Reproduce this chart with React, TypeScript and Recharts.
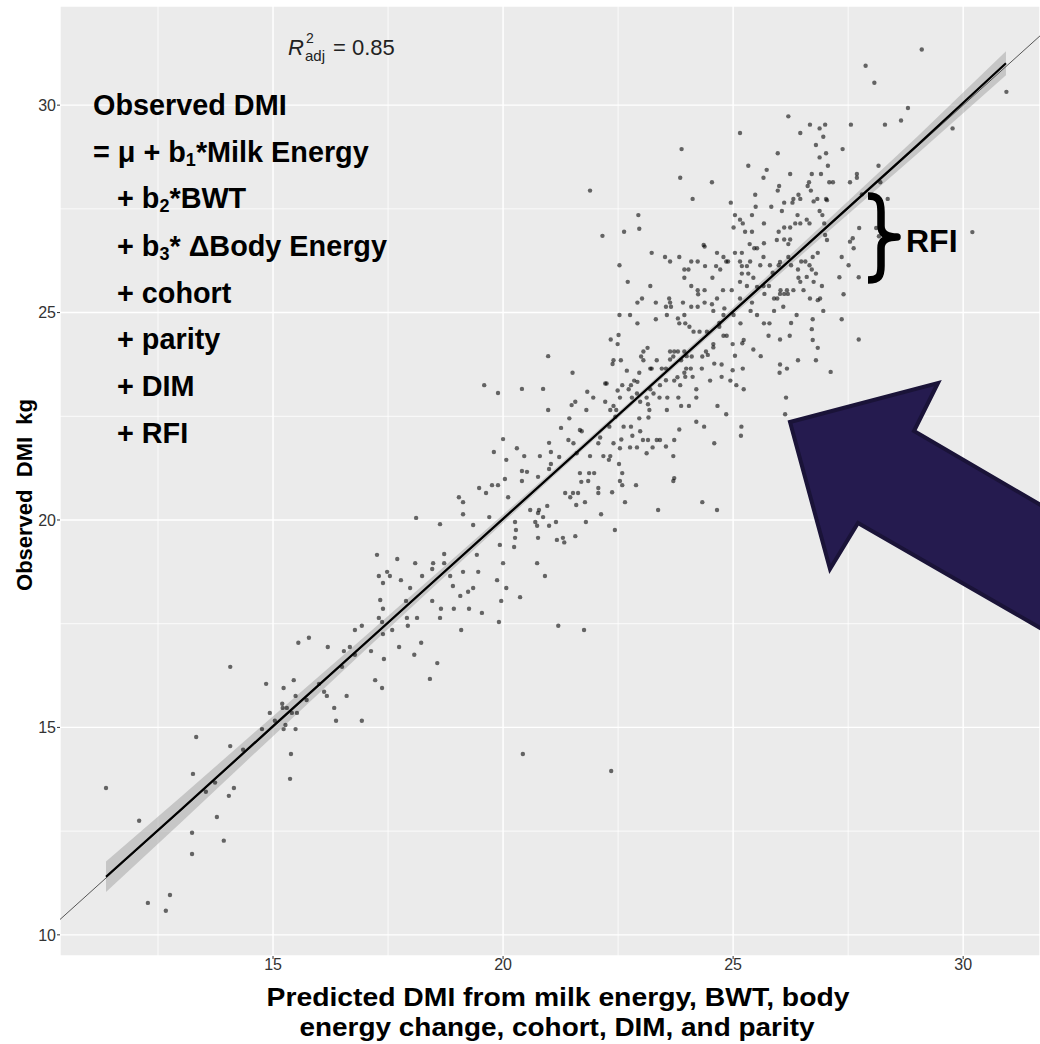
import { ComposedChart, Scatter, Area, Line, XAxis, YAxis, CartesianGrid, ReferenceLine } from 'recharts';

const FONT = '"Liberation Sans", Arial, sans-serif';

// axis ticks and grid
const xTicks = [15, 20, 25, 30];
const yTicks = [10, 15, 20, 25, 30];
const xMinor = [12.5, 17.5, 22.5, 27.5];
const yMinor = [12.5, 17.5, 22.5, 27.5];

// fitted line + confidence band (predicted, fitted, low, high)
const fitX = [11.37, 13, 15, 17, 19, 21, 23, 25, 27, 29, 30.93];
const fitY = [11.4, 13.02, 15.03, 17.03, 19.03, 21.03, 23.03, 25.03, 27.03, 29.03, 31.01];
const bandLow = [11.03, 12.71, 14.79, 16.86, 18.91, 20.95, 22.96, 24.94, 26.89, 28.82, 30.72];
const bandHigh = [11.77, 13.33, 15.27, 17.2, 19.15, 21.11, 23.1, 25.12, 27.17, 29.24, 31.3];

// y = x reference line ends
const ablineEnds = [10.37, 31.67];

// [predicted, observed] pairs
const lowPoints: [number, number][] = [
  [11.37, 13.54], [12.09, 12.75], [12.28, 10.77], [12.67, 10.58], [12.76, 10.96], [13.24, 12.46], [13.24, 11.95],
  [13.26, 13.88], [13.33, 14.77], [13.54, 13.45], [13.74, 13.67], [13.78, 12.84], [13.93, 12.27], [14.04, 13.35],
  [14.07, 14.55], [14.07, 16.46], [14.15, 13.54], [14.35, 14.46], [14.76, 14.96], [14.85, 16.05], [14.93, 15.35],
  [15.04, 15.16], [15.2, 15.57], [15.21, 15.47], [15.23, 15.95], [15.23, 14.96], [15.27, 15.06], [15.3, 15.47],
  [15.37, 13.76], [15.39, 14.36], [15.41, 15.35], [15.45, 16.14], [15.49, 15.76], [15.49, 14.96], [15.52, 15.35],
  [15.55, 17.04], [15.73, 15.66], [15.78, 17.16], [16.0, 16.05], [16.11, 15.86], [16.17, 15.76], [16.19, 16.94],
  [16.33, 15.47], [16.37, 15.16], [16.5, 16.46], [16.54, 16.84], [16.6, 15.76], [16.67, 16.94], [16.78, 17.35],
  [16.78, 16.75], [16.93, 17.45], [16.93, 15.16], [17.13, 16.84], [17.22, 16.14], [17.37, 15.95], [17.41, 16.65],
  [17.39, 17.25], [17.37, 17.54], [17.59, 17.35], [17.74, 16.94],
];

const midPoints: [number, number][] = [
  [19.59, 23.25], [19.89, 23.06], [20.41, 23.16], [20.87, 23.16], [20.98, 22.65], [20.98, 23.95],
  [21.0, 21.86], [21.04, 21.64], [21.22, 21.52], [21.04, 21.35], [21.0, 21.23], [22.3, 21.45], [22.52, 21.35],
  [22.59, 21.13], [22.54, 20.94], [22.59, 20.84], [22.65, 20.43], [22.37, 20.67], [22.43, 19.76], [22.07, 20.77],
  [22.07, 20.65], [21.87, 21.13], [21.98, 21.13], [21.85, 20.94], [21.67, 21.13], [21.7, 20.92], [21.63, 20.65],
  [21.52, 20.65], [21.46, 20.55], [21.35, 20.65], [21.59, 20.36], [21.78, 20.43], [22.13, 20.14], [21.8, 19.95],
  [21.57, 19.61], [21.3, 19.57], [21.33, 19.46], [21.17, 19.52], [20.78, 20.24], [20.76, 20.17], [20.87, 20.07],
  [20.96, 20.34], [20.7, 19.95], [20.74, 19.86], [20.59, 20.24], [20.76, 21.04], [21.0, 19.86], [21.15, 19.95],
  [20.76, 19.57], [20.74, 18.96], [20.91, 18.65], [20.37, 18.14], [21.2, 17.45], [21.76, 17.35], [20.41, 21.18],
  [20.52, 21.16], [20.41, 20.94], [20.3, 21.73], [20.46, 21.54], [20.8, 21.54], [20.0, 21.95], [20.07, 21.45],
  [20.04, 20.99], [20.11, 20.55], [20.26, 19.95], [20.28, 19.76], [20.26, 19.57], [20.24, 19.35], [19.93, 19.4],
  [20.0, 18.96], [19.87, 18.55], [20.07, 18.36], [19.96, 18.05], [19.91, 17.54], [19.8, 21.64], [19.76, 20.84],
  [19.89, 20.84], [19.63, 20.65], [19.48, 20.77], [19.7, 20.07], [19.35, 19.88], [19.04, 20.55], [19.13, 20.43],
  [19.13, 20.14], [19.43, 19.16], [19.46, 18.75], [19.35, 18.36], [19.24, 18.27], [19.07, 18.17], [19.13, 18.75],
  [19.54, 17.76], [19.26, 17.86], [19.09, 17.35], [18.93, 17.86], [18.91, 18.41], [18.85, 18.65], [18.72, 19.18],
  [18.63, 19.9], [18.11, 20.05], [18.72, 18.96], [18.48, 18.96], [18.46, 18.82], [18.24, 18.65], [18.09, 18.96],
  [17.98, 18.36], [17.78, 18.55], [17.7, 19.06], [17.54, 18.65], [17.48, 18.75], [17.39, 18.48], [17.3, 18.65],
  [17.26, 19.16], [17.33, 18.07], [17.39, 17.86], [17.3, 17.64], [17.89, 18.05], [17.91, 17.64], [17.93, 17.45],
  [18.13, 17.64], [18.22, 17.04], [18.07, 16.75], [18.41, 16.17], [18.57, 16.55], [18.46, 18.05], [18.65, 17.86],
  [18.63, 17.64], [20.43, 14.36], [22.35, 13.95], [22.89, 20.84], [23.37, 20.24], [23.72, 21.01], [23.7, 20.94],
  [24.33, 20.43], [24.65, 20.24],
];

const densePoints: [number, number][] = [
  [24.95, 27.65], [25.49, 27.55], [25.83, 27.55], [26.11, 27.65], [26.29, 27.65], [26.75, 27.68], [27.04, 27.71],
  [25.04, 27.35], [25.41, 27.35], [25.15, 27.24], [25.21, 27.15], [25.01, 27.05], [25.67, 27.15], [25.41, 26.95],
  [25.26, 26.95], [25.99, 26.95], [26.11, 27.05], [26.24, 27.05], [26.06, 27.45], [26.4, 27.35], [26.46, 27.15],
  [26.35, 27.15], [26.6, 27.24], [26.66, 27.15], [26.88, 27.45], [26.94, 27.35], [26.98, 27.15], [22.94, 27.35],
  [22.63, 26.95], [22.96, 27.02], [22.16, 26.85], [26.11, 26.76], [26.24, 26.76], [25.95, 26.75], [26.2, 26.65],
  [25.67, 26.67], [25.36, 26.65], [25.46, 26.55], [25.52, 26.55], [25.19, 26.44], [25.04, 26.44], [25.66, 26.34],
  [24.36, 26.63], [24.38, 26.59], [24.65, 26.44], [24.79, 26.34], [24.85, 26.23], [24.89, 26.23], [25.15, 26.23],
  [25.37, 26.23], [25.19, 26.12], [25.3, 26.12], [24.39, 26.12], [24.63, 26.12], [24.23, 26.23], [24.09, 26.23],
  [23.83, 26.34], [23.52, 26.34], [23.63, 26.23], [23.23, 26.44], [22.53, 26.14], [23.94, 26.04], [24.03, 26.04],
  [24.72, 26.04], [23.94, 25.84], [24.55, 25.84], [25.19, 25.94], [25.33, 25.94], [25.59, 26.14], [25.8, 26.14],
  [25.86, 25.96], [25.44, 25.84], [25.15, 25.74], [25.3, 25.64], [24.97, 25.54], [24.78, 25.54], [24.65, 25.34],
  [24.54, 25.2], [24.23, 25.54], [24.38, 25.54], [24.24, 25.44], [24.09, 25.64], [23.2, 25.64], [22.71, 25.74],
  [23.02, 25.34], [22.92, 25.24], [23.32, 25.24], [23.61, 25.34], [23.63, 25.24], [23.54, 25.14], [23.65, 25.14],
  [23.91, 25.24], [24.09, 25.14], [24.23, 25.14], [24.38, 25.24], [24.57, 25.04], [24.81, 25.1], [25.15, 25.34],
  [25.41, 25.24], [25.66, 25.64], [25.78, 25.64], [25.89, 25.34], [25.96, 25.34], [26.03, 25.54], [26.17, 25.54],
  [26.31, 25.54], [26.53, 25.54], [26.75, 25.74], [26.8, 25.94], [26.6, 25.86], [26.71, 26.04], [26.66, 26.14],
  [26.57, 26.23], [26.48, 26.23], [26.41, 26.04], [26.26, 26.14], [25.99, 26.14], [26.2, 26.34], [26.02, 26.22],
  [25.52, 25.62], [25.68, 25.45], [26.02, 25.45], [26.11, 25.45], [26.19, 25.45], [26.42, 25.84], [26.46, 25.74],
  [26.93, 25.64], [27.31, 25.85], [27.36, 26.34], [27.51, 26.14], [27.4, 25.44], [27.54, 26.71], [27.6, 26.79],
  [27.62, 26.55], [27.73, 25.85], [27.04, 26.75], [27.0, 26.87], [26.84, 26.44], [26.73, 26.34], [26.89, 25.34],
  [26.84, 25.3], [26.96, 25.04], [26.67, 25.34], [26.38, 24.94], [26.09, 25.14], [25.89, 25.04], [25.52, 24.94],
  [25.38, 25.04], [25.16, 24.74], [25.01, 24.94], [24.86, 24.44], [24.79, 24.44], [24.7, 24.66], [24.79, 24.94],
  [24.7, 24.75], [24.57, 24.24], [24.43, 24.54], [24.27, 24.54], [24.14, 24.54], [24.05, 24.66], [23.94, 24.94],
  [23.96, 24.74], [23.8, 24.86], [23.56, 24.94], [23.83, 24.74], [23.32, 24.84], [22.92, 24.74], [22.76, 24.94],
  [22.53, 24.94], [22.51, 24.46], [22.34, 24.35], [22.49, 24.24], [22.56, 23.85], [22.4, 23.85], [22.38, 23.76],
  [22.69, 23.6], [22.96, 23.55], [23.2, 23.65], [23.05, 23.85], [23.0, 23.94], [23.14, 24.15], [23.05, 24.06],
  [23.34, 23.85], [23.23, 23.65], [23.45, 23.65], [23.54, 23.65], [23.63, 23.87], [23.7, 23.94], [23.63, 24.06],
  [23.72, 24.06], [23.8, 24.06], [23.94, 24.06], [23.99, 23.95], [23.87, 23.85], [24.1, 23.94], [24.08, 23.65],
  [23.98, 23.65], [23.94, 23.55], [24.12, 23.45], [23.96, 23.45], [24.33, 23.94], [24.45, 23.98], [24.41, 24.06],
  [24.32, 23.65], [24.57, 24.16], [24.59, 23.77], [24.75, 23.75], [24.75, 23.45], [24.99, 23.61], [25.2, 24.26],
  [25.23, 24.34], [24.99, 24.24], [25.04, 23.96], [25.21, 23.65], [25.44, 24.11], [25.6, 23.95], [25.67, 24.74],
  [25.79, 24.74], [25.77, 24.44], [26.02, 24.35], [26.23, 24.44], [26.26, 24.75], [26.73, 24.84], [26.73, 24.34],
  [26.84, 24.15], [26.8, 23.85], [26.71, 24.6], [27.36, 24.84], [27.73, 24.35], [27.12, 23.57], [26.41, 23.85],
  [26.02, 23.75], [26.01, 23.55], [26.17, 23.65], [26.15, 22.95], [26.13, 22.55], [25.18, 22.25], [25.17, 22.03],
  [24.85, 22.55], [24.66, 22.75], [24.59, 21.85], [24.37, 22.25], [24.2, 22.37], [24.04, 22.75], [24.2, 22.95],
  [23.83, 22.18], [23.81, 22.95], [23.57, 22.95], [23.4, 22.95], [23.15, 22.79], [23.18, 22.65], [23.56, 22.65],
  [23.87, 22.75], [23.72, 21.93], [23.41, 21.93], [23.15, 21.93], [23.04, 21.93], [23.34, 21.93], [22.98, 22.14],
  [22.96, 22.45], [23.16, 22.47], [22.78, 22.25], [22.81, 22.03], [22.62, 22.25], [22.57, 21.94], [22.44, 22.49],
  [22.46, 22.65], [22.4, 22.75], [22.33, 22.65], [22.22, 22.85], [22.22, 23.29], [22.25, 23.29], [22.49, 23.12],
  [22.54, 22.95], [22.59, 23.25], [22.73, 23.15], [22.78, 23.25], [22.85, 23.36], [22.92, 23.33], [22.91, 23.05],
  [22.8, 22.95], [22.98, 22.85], [23.12, 22.95], [23.2, 23.15], [23.27, 23.05], [23.41, 23.25], [23.54, 23.37],
  [23.72, 23.36], [23.79, 23.44], [23.85, 23.25], [21.96, 22.95], [21.83, 23.09], [21.57, 22.85], [21.49, 22.77],
  [21.81, 22.65], [21.44, 22.45], [21.67, 22.17], [21.71, 22.14], [21.26, 22.22], [21.53, 21.85], [21.42, 21.93],
  [22.11, 21.99], [22.07, 21.85], [22.4, 21.85], [22.31, 22.25], [22.76, 21.75], [22.91, 21.75], [22.54, 21.73],
  [22.18, 21.54], [22.33, 21.54], [23.12, 21.61], [23.7, 21.54], [21.89, 21.54], [21.6, 21.61], [23.54, 21.77],
  [23.25, 21.75], [21.51, 23.55], [24.5, 23.36], [24.94, 23.36], [25.07, 23.25], [25.23, 23.15], [24.2, 23.15],
];

const upperPoints: [number, number][] = [
  [29.1, 31.34], [27.88, 30.95], [28.07, 30.54], [30.94, 30.32], [28.8, 29.93], [28.65, 29.63], [28.3, 29.53],
  [29.77, 29.44], [27.56, 29.53], [27.38, 28.94], [26.2, 29.73], [26.67, 29.53], [26.88, 29.44], [27.0, 29.53],
  [26.46, 29.33], [26.96, 29.24], [25.15, 29.33], [26.8, 29.04], [27.02, 28.84], [25.97, 28.84], [26.88, 28.74],
  [23.88, 28.94], [23.85, 28.25], [24.54, 28.14], [25.33, 28.54], [25.73, 28.44], [25.66, 28.25], [26.24, 28.34],
  [26.71, 28.34], [26.91, 28.34], [27.06, 28.54], [27.09, 28.14], [27.17, 28.14], [26.65, 28.14], [26.62, 28.05],
  [26.69, 27.94], [26.0, 28.05], [25.97, 27.94], [25.48, 27.84], [26.42, 27.84], [26.31, 27.74], [26.46, 27.74],
  [26.83, 27.74], [27.02, 27.74], [27.54, 28.14], [27.69, 28.34], [27.69, 28.25], [28.16, 28.54], [28.2, 28.14],
  [21.89, 27.94], [24.12, 27.74], [27.8, 27.85], [28.36, 27.74], [28.11, 27.04], [28.17, 26.84], [30.2, 26.94],
  [27.74, 27.04],
];

const scatterData = [...lowPoints, ...midPoints, ...densePoints, ...upperPoints].map(([x, y]) => ({ x, y }));
const fitData = fitX.map((x, i) => ({ x, fit: fitY[i], band: [bandLow[i], bandHigh[i]] }));

const Dot = (p: any) => <circle cx={p.cx} cy={p.cy} r={2.2} fill="#000" fillOpacity={0.58} />;

const tickStyle = { fill: '#333', fontSize: 16, fontFamily: FONT };

export default function App() {
  return (
    <div style={{ position: 'absolute', left: 0, top: 0, width: 1040, height: 1044, background: '#fff' }}>
      <ComposedChart width={1040} height={1044} data={fitData} margin={{ top: 6, right: 0, bottom: 0, left: 0 }}>
        <CartesianGrid fill="#EBEBEB" stroke="#FFFFFF" strokeWidth={1.4} />
        <CartesianGrid fill="none" stroke="#FFFFFF" strokeWidth={0.8} horizontalValues={yMinor} verticalValues={xMinor} />
        <XAxis
          dataKey="x"
          type="number"
          domain={[10.37, 31.67]}
          ticks={xTicks}
          allowDataOverflow
          axisLine={false}
          tickLine={{ stroke: '#333' }}
          tickSize={3}
          tickMargin={0}
          height={88}
          tick={tickStyle}
        />
        <YAxis
          type="number"
          domain={[9.49, 32.39]}
          ticks={yTicks}
          allowDataOverflow
          axisLine={false}
          tickLine={{ stroke: '#333' }}
          tickSize={3}
          tickMargin={1}
          width={60}
          tick={tickStyle}
        />
        <ReferenceLine
          segment={[{ x: ablineEnds[0], y: ablineEnds[0] }, { x: ablineEnds[1], y: ablineEnds[1] }]}
          stroke="#555"
          strokeWidth={1}
          ifOverflow="hidden"
        />
        <Scatter data={scatterData} dataKey="y" shape={Dot} isAnimationActive={false} />
        <Area dataKey="band" type="linear" stroke="none" fill="#999999" fillOpacity={0.45} isAnimationActive={false} />
        <Line dataKey="fit" type="linear" stroke="#000" strokeWidth={2.2} dot={false} isAnimationActive={false} />
      </ComposedChart>

      <svg
        width={1040}
        height={1044}
        style={{ position: 'absolute', left: 0, top: 0, pointerEvents: 'none', fontFamily: FONT }}
      >
        {/* R2 label */}
        <text x={288} y={55} fontSize={22} fill="#222" fontStyle="italic">R</text>
        <text x={306} y={43} fontSize={14} fill="#222">2</text>
        <text x={305} y={61} fontSize={15} fill="#222">adj</text>
        <text x={333} y={55} fontSize={22} fill="#222">= 0.85</text>

        {/* model equation */}
        <g fontSize={28.8} fontWeight="bold" fill="#000">
          <text x={93} y={115}>Observed DMI</text>
          <text x={93} y={162}>
            = μ + b<tspan fontSize={18} dy={4}>1</tspan>
            <tspan dy={-4}>*Milk Energy</tspan>
          </text>
          <text x={117} y={208}>
            + b<tspan fontSize={18} dy={4}>2</tspan>
            <tspan dy={-4}>*BWT</tspan>
          </text>
          <text x={117} y={256}>
            + b<tspan fontSize={18} dy={4}>3</tspan>
            <tspan dy={-4}>* ΔBody Energy</tspan>
          </text>
          <text x={117} y={303}>+ cohort</text>
          <text x={117} y={349}>+ parity</text>
          <text x={117} y={396}>+ DIM</text>
          <text x={117} y={443}>+ RFI</text>
        </g>

        {/* RFI brace */}
        <path
          d="M 868 196 C 879 196, 881 201, 881 212 L 881 226 C 881 233, 886 237, 897 237 C 886 237, 881 241, 881 248 L 881 266 C 881 276, 879 280, 868 280"
          fill="none"
          stroke="#000"
          strokeWidth={7.5}
          strokeLinejoin="round"
        />
        <text x={906} y={252} fontSize={32} fontWeight="bold" fill="#000">RFI</text>

        {/* arrow */}
        <polygon
          points="790,422 938,383 914,431 1075,525 1075,648 858,523 830,569"
          fill="#251B4F"
          stroke="#1A1338"
          strokeWidth={4}
          strokeLinejoin="miter"
        />

        {/* axis titles */}
        <text
          transform="translate(32,495) rotate(-90)"
          textAnchor="middle"
          fontSize={22}
          fontWeight="bold"
          fill="#000"
          style={{ whiteSpace: 'pre' }}
        >
          Observed  DMI  kg
        </text>
        <text x={558} y={1006} textAnchor="middle" fontSize={26} fontWeight="bold" fill="#000" textLength={583} lengthAdjust="spacingAndGlyphs">
          Predicted DMI from milk energy, BWT, body
        </text>
        <text x={557} y={1036} textAnchor="middle" fontSize={26} fontWeight="bold" fill="#000" textLength={515} lengthAdjust="spacingAndGlyphs">
          energy change, cohort, DIM, and parity
        </text>
      </svg>
    </div>
  );
}
